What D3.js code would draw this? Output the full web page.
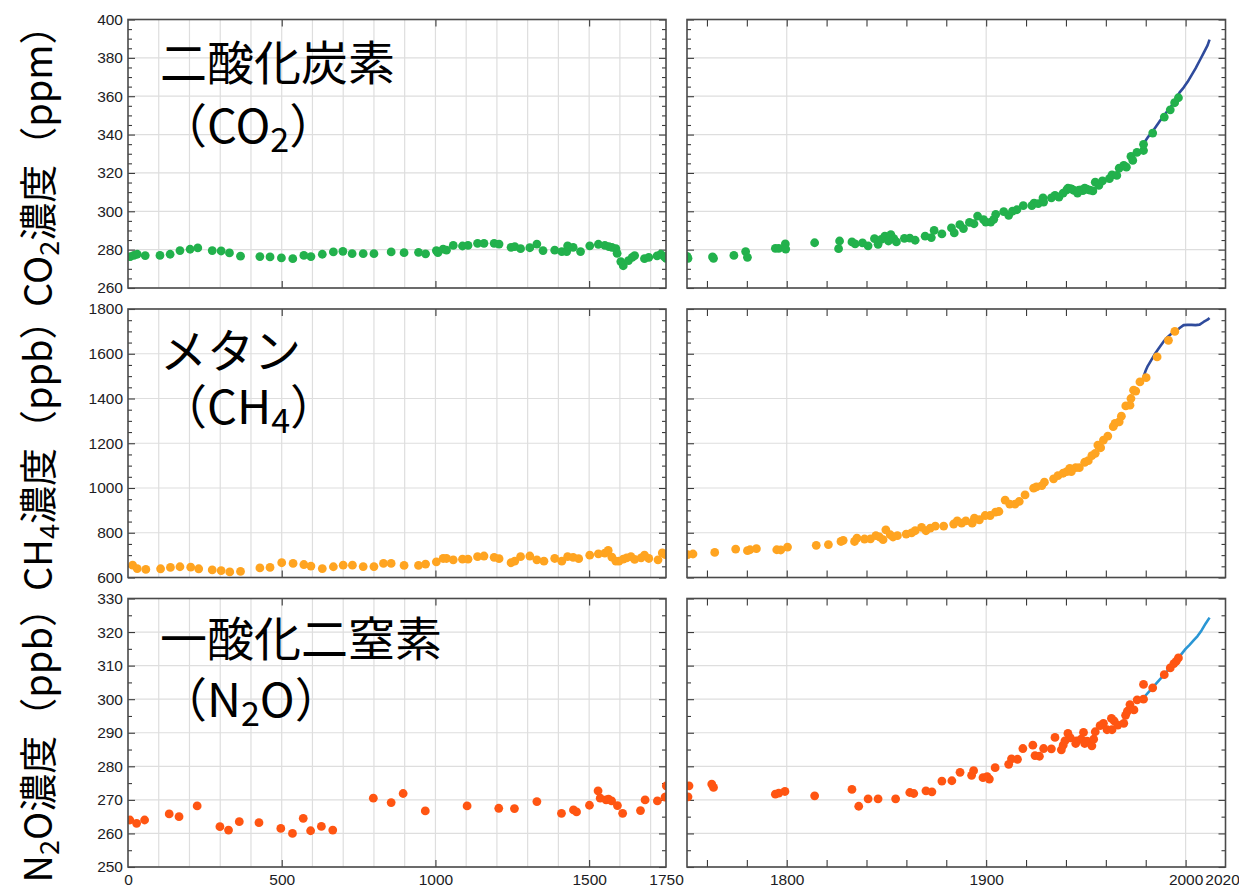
<!DOCTYPE html>
<html>
<head>
<meta charset="utf-8">
<script src="https://cdn.jsdelivr.net/npm/d3@7"></script>
<style>
  body { margin: 0; background: #fff; }
  svg { display: block; }
  .tick text { font-family: "Liberation Sans", Arial, sans-serif; font-size: 15.5px; fill: #1c1c24; }
</style>
</head>
<body>
<svg id="chart"></svg>
<script>
// ---- data: CO2 (ppm) ----
const co2Years = [7, 19, 30, 56, 104, 137, 169, 202, 227, 274, 303, 330, 366, 429, 462, 499, 536, 572, 595, 632, 668, 699, 729, 765, 800, 856, 898, 945, 968, 1003, 1008, 1025, 1036, 1058, 1088, 1106, 1137, 1158, 1191, 1207, 1246, 1258, 1277, 1307, 1330, 1350, 1388, 1411, 1427, 1430, 1448, 1472, 1502, 1530, 1551, 1564, 1574, 1587, 1591, 1603, 1611, 1628, 1640, 1648, 1680, 1694, 1721, 1733, 1744,
  1750, 1750.5, 1762.8, 1763.3, 1773.5, 1779.4, 1780.3, 1794.3, 1796, 1799.3, 1799.5, 1814, 1826.5, 1826, 1832.7, 1834.3, 1838, 1840.8, 1844, 1845.8, 1847.4, 1849.2, 1851, 1852.2, 1853.7, 1855, 1859, 1861.7, 1864.4, 1869.4, 1872.5, 1873.9, 1877.8, 1882.6, 1884, 1886.8, 1888.6, 1891.6, 1893.9, 1895.7, 1898.7, 1899.8, 1902.3, 1903.8, 1904.8, 1908.8, 1911.3, 1913.2, 1915.4, 1918.6, 1922.9, 1924, 1926.1, 1928.5, 1928.8, 1932.7, 1934.5, 1936.5, 1938.6, 1940.4, 1941, 1942.2, 1943, 1944, 1945.8, 1946.5, 1947.6, 1948.5, 1949.4, 1950.5, 1952, 1953.5, 1954.7, 1956.5, 1958.3, 1961.8, 1963.1, 1965.5, 1966.7, 1969, 1970.3, 1972.6, 1973.5, 1975.6, 1978.9, 1978.9, 1983.5, 1989.3, 1992.3, 1994.5, 1996.4];
const co2Values = [276.4, 277, 277.6, 276.9, 277, 277.6, 279.5, 280.2, 280.9, 279.5, 279.3, 278.3, 276.6, 276.4, 276.2, 275.7, 275.3, 277, 276.4, 277.6, 278.8, 279.1, 277.9, 277.9, 277.9, 278.8, 278.4, 278.6, 277.8, 279.5, 278.4, 280.3, 279.7, 282.2, 281.9, 282.2, 283.3, 283.3, 283.3, 282.9, 281.2, 281.6, 280.5, 281, 282.9, 279.5, 279.7, 279, 279, 282, 281.2, 279, 282, 282.8, 282.2, 281.6, 281.2, 280.5, 278.1, 273.8, 271.6, 274.3, 276, 276.9, 275.3, 276, 276.7, 277.6, 276.4,
  276.5, 275.5, 276.2, 275.5, 277, 279, 276, 280.7, 280.7, 283, 280.3, 283.6, 284.5, 280.5, 284, 283, 283.5, 282, 285.7, 282.8, 285.4, 287, 284.5, 287.8, 285.7, 284, 285.9, 286, 284.9, 287, 286.3, 290, 288.2, 291.3, 288.7, 293, 291, 294.2, 293.5, 297.5, 295.6, 294.4, 294.4, 295.8, 298.4, 299.8, 297.9, 300.1, 300.8, 302.9, 303, 304.3, 304, 307, 304.8, 307, 308.3, 307.4, 309.5, 311.2, 312, 311.8, 311.5, 310.9, 309.5, 311, 311.2, 310.8, 312.1, 311.5, 311, 310.6, 315.2, 313.5, 315.8, 317, 319, 318.7, 322.5, 323.9, 323, 328.6, 326.5, 330.7, 331.7, 334.9, 340.8, 349.1, 352.9, 356.6, 359.2];
const co2LineYears = [1979, 1981, 1983, 1985, 1987, 1989, 1991, 1993, 1995, 1997, 1999, 2001, 2003, 2005, 2007, 2009, 2011, 2012];
const co2LineValues = [335.5, 338.5, 341, 344, 347, 349.5, 352.5, 355, 358.5, 362, 364.5, 367.5, 371, 374.5, 378.5, 382.5, 386.5, 389.5];

// ---- data: CH4 (ppb) ----
const ch4Years = [15, 30, 58, 106, 138, 169, 204, 230, 274, 303, 331, 366, 429, 462, 500, 537, 572, 595, 632, 668, 700, 730, 765, 800, 831, 856, 898, 945, 968, 1003, 1025, 1036, 1058, 1088, 1106, 1137, 1158, 1191, 1207, 1246, 1258, 1277, 1307, 1330, 1353, 1388, 1411, 1430, 1448, 1466, 1502, 1530, 1551, 1562, 1574, 1587, 1597, 1611, 1622, 1636, 1648, 1669, 1680, 1694, 1724, 1738, 1747,
  1750.3, 1753, 1763.9, 1774.4, 1780.3, 1781.6, 1784.8, 1795, 1797, 1800.4, 1814.8, 1820.9, 1827.2, 1828.3, 1834, 1835.2, 1839, 1842, 1844.7, 1846.5, 1848.3, 1849.7, 1851.9, 1853.3, 1855.5, 1859.9, 1862.6, 1864.4, 1867.6, 1869.8, 1872, 1874.5, 1878.7, 1883.7, 1885.5, 1887.7, 1889.8, 1893, 1894.1, 1896.6, 1899.5, 1902, 1904.7, 1906.4, 1909.5, 1911.8, 1914.5, 1916.6, 1919.5, 1923.8, 1925.2, 1927.9, 1929.2, 1933.8, 1936, 1938.6, 1940.4, 1941.9, 1942.7, 1944.9, 1946.7, 1949.4, 1951.2, 1953, 1954.7, 1956, 1957.4, 1958.8, 1961, 1963.7, 1964.6, 1966.7, 1967.8, 1970, 1972.1, 1972.6, 1973.9, 1975, 1977.1, 1980.2, 1985.7, 1991.4, 1994.6];
const ch4Values = [655, 640, 636, 639, 645, 648, 646, 639, 634, 631, 625, 627, 643, 645, 666, 663, 658, 651, 640, 648, 655, 655, 649, 649, 663, 663, 654, 654, 660, 670, 685, 685, 679, 682, 682, 693, 696, 690, 684, 666, 673, 693, 696, 679, 673, 685, 673, 693, 690, 684, 700, 706, 709, 721, 691, 673, 673, 682, 688, 693, 681, 688, 700, 685, 679, 710, 703,
  702, 705, 712, 727, 720, 724, 729, 724, 723, 736, 744, 747, 761, 766, 761, 776, 772, 773, 787, 781, 769, 813, 791, 781, 787, 794, 799, 809, 824, 809, 821, 830, 830, 839, 853, 843, 853, 843, 865, 858, 877, 877, 892, 895, 946, 928, 928, 940, 969, 999, 1005, 1011, 1026, 1041, 1055, 1066, 1073, 1088, 1073, 1091, 1091, 1115, 1122, 1145, 1155, 1192, 1180, 1214, 1232, 1274, 1289, 1296, 1321, 1367, 1370, 1400, 1437, 1433, 1474, 1493, 1586, 1660, 1700];
const ch4LineYears = [1979, 1980, 1981, 1983, 1985, 1987, 1989, 1991, 1993, 1995, 1997, 1999, 2001, 2003, 2005, 2007, 2009, 2011, 2012];
const ch4LineValues = [1500, 1525, 1545, 1575, 1605, 1630, 1655, 1675, 1690, 1700, 1715, 1728, 1729, 1729, 1728, 1730, 1742, 1752, 1760];

// ---- data: N2O (ppb) ----
const n2oYears = [6, 28, 54, 134, 166, 225, 299, 327, 362, 426, 497, 535, 570, 594, 629, 666, 798, 856, 895, 967, 1103, 1206, 1257, 1330, 1410, 1449, 1459, 1501, 1529, 1536, 1555, 1563, 1573, 1592, 1609, 1667, 1682, 1722, 1747, 1751,
  1750.5, 1762.4, 1763.3, 1794.3, 1796, 1799.1, 1814, 1832.7, 1836.1, 1840.8, 1845.8, 1854.6, 1861.7, 1863.7, 1869.8, 1872.8, 1877.8, 1882.8, 1886.9, 1892.7, 1893.7, 1898.4, 1900.5, 1901.6, 1904.5, 1911.3, 1912.7, 1915.7, 1918.4, 1923.4, 1924.5, 1926.7, 1928.8, 1932.7, 1934.5, 1937.7, 1938.6, 1939.5, 1941, 1942.2, 1944.9, 1945.3, 1947.6, 1948.8, 1949.4, 1950.6, 1953, 1953.9, 1954.7, 1957.1, 1958.8, 1960.6, 1962.8, 1963.1, 1964.2, 1966, 1969, 1969.9, 1970.8, 1972.1, 1974.1, 1975.7, 1978.9, 1978.9, 1983.5, 1989.3, 1992.3, 1994.1, 1995.3, 1996.4];
const n2oValues = [264, 263, 264, 265.8, 265, 268.2, 262, 261, 263.5, 263.2, 261.5, 260, 264.5, 260.8, 262.1, 261, 270.5, 269.2, 271.9, 266.7, 268.2, 267.5, 267.4, 269.5, 266, 267, 266.4, 268.4, 272.7, 270.5, 270, 270.2, 269.7, 268.3, 266, 266.8, 270, 269.7, 270.8, 274.2,
  270.9, 274.7, 273.7, 271.7, 272, 272.5, 271.2, 273.1, 268.1, 270.3, 270.3, 270.3, 272.2, 271.9, 272.7, 272.4, 275.6, 275.7, 278.2, 277.3, 278.7, 276.6, 276.9, 276.2, 279.6, 280.6, 282.2, 282.1, 285.3, 286.3, 283.2, 283, 285.3, 285.2, 288.6, 284.9, 286.3, 287.6, 289.8, 288.5, 286.8, 287.6, 288.1, 290.1, 286.8, 287.5, 286.1, 288.1, 290.3, 292.1, 292.8, 290.9, 294.3, 290.9, 293.5, 292.3, 292.8, 295.2, 296.4, 298.4, 296.8, 299.8, 304.4, 300, 303.4, 307.3, 309.3, 310.6, 311.3, 312.3];
const n2oLineYears = [1979, 1982, 1985, 1988, 1990, 1993, 1996, 1998, 2000, 2002, 2004, 2006, 2008, 2010, 2012];
const n2oLineValues = [300.5, 302.5, 304.5, 306.5, 307.8, 310, 312, 313.5, 315, 316.2, 317.5, 318.8, 320.5, 322.5, 324.3];

// ---- axis ticks ----
const co2Ticks = [260, 280, 300, 320, 340, 360, 380, 400];
const ch4Ticks = [600, 800, 1000, 1200, 1400, 1600, 1800];
const n2oTicks = [250, 260, 270, 280, 290, 300, 310, 320, 330];
const ancientTicks = [0, 500, 1000, 1500, 1750];
const modernTicks = [1800, 1900, 2000, 2020];

const width = 1239, height = 895;
const svg = d3.select('#chart').attr('width', width).attr('height', height);

const columns = [
  { x0: 128, x1: 666, domain: [0, 1750], grid: d3.range(100, 1750, 100), major: [500, 1000, 1500] },
  { x0: 687, x1: 1225.5, domain: [1750, 2020], grid: [1800, 1900, 2000], major: d3.range(1760, 2020, 20) }
];

const rows = [
  { top: 19.5, domain: [260, 400], ticks: co2Ticks, minorStep: 5, years: co2Years, values: co2Values,
    lineYears: co2LineYears, lineValues: co2LineValues, dot: '#22b14c', line: '#2f4b9c',
    name: '二酸化炭素', formula: ['CO', '2', ''], nameDy: 60.5, formulaDy: 123.5,
    label: ['CO', '2', '濃度（ppm）'] },
  { top: 309, domain: [600, 1800], ticks: ch4Ticks, minorStep: 50, years: ch4Years, values: ch4Values,
    lineYears: ch4LineYears, lineValues: ch4LineValues, dot: '#ffa420', line: '#2f4b9c',
    name: 'メタン', formula: ['CH', '4', ''], nameDy: 59, formulaDy: 114.5,
    label: ['CH', '4', '濃度（ppb）'] },
  { top: 598.5, domain: [250, 330], ticks: n2oTicks, minorStep: 5, years: n2oYears, values: n2oValues,
    lineYears: n2oLineYears, lineValues: n2oLineValues, dot: '#ff5512', line: '#2a96d4',
    name: '一酸化二窒素', formula: ['N', '2', 'O'], nameDy: 57, formulaDy: 118.5,
    label: ['N', '2', 'O濃度（ppb）'] }
];
const panelH = 268.5;
const cjk = '"Noto Sans CJK JP", "Noto Sans", sans-serif';

rows.forEach((row, ri) => {
  const bottom = row.top + panelH;
  const y = d3.scaleLinear().domain(row.domain).range([bottom, row.top]);
  const minorY = d3.range(row.domain[0], row.domain[1] + 0.001, row.minorStep)
    .filter(v => !row.ticks.includes(v));

  columns.forEach((col, ci) => {
    const x = d3.scaleLinear().domain(col.domain).range([col.x0, col.x1]);
    const w = col.x1 - col.x0;
    const clipId = `clip-${ri}-${ci}`;
    svg.append('clipPath').attr('id', clipId)
      .append('rect').attr('x', col.x0).attr('y', row.top).attr('width', w).attr('height', panelH);

    const g = svg.append('g');

    // grid
    g.selectAll('.hgrid').data(row.ticks).enter().append('line')
      .attr('x1', col.x0).attr('x2', col.x1)
      .attr('y1', d => y(d)).attr('y2', d => y(d))
      .attr('stroke', '#dedede').attr('stroke-width', 1.2);
    g.selectAll('.vgrid').data(col.grid).enter().append('line')
      .attr('x1', d => x(d)).attr('x2', d => x(d))
      .attr('y1', row.top).attr('y2', bottom)
      .attr('stroke', '#dedede').attr('stroke-width', 1.2);

    // y ticks, both sides, inward
    const yMajor = d3.axisLeft(y).tickValues(row.ticks).tickSize(-7).tickPadding(5)
      .tickFormat(ci === 0 ? d3.format('d') : '');
    const yMinor = d3.axisLeft(y).tickValues(minorY).tickSize(-4).tickFormat('');
    g.append('g').attr('transform', `translate(${col.x0},0)`).call(yMajor);
    g.append('g').attr('transform', `translate(${col.x0},0)`).call(yMinor);
    g.append('g').attr('transform', `translate(${col.x1},0)`)
      .call(d3.axisRight(y).tickValues(row.ticks).tickSize(-7).tickFormat(''));
    g.append('g').attr('transform', `translate(${col.x1},0)`)
      .call(d3.axisRight(y).tickValues(minorY).tickSize(-4).tickFormat(''));

    // x ticks, top and bottom, inward
    g.append('g').attr('transform', `translate(0,${bottom})`)
      .call(d3.axisBottom(x).tickValues(col.major).tickSize(-7).tickFormat(''));
    g.append('g').attr('transform', `translate(0,${row.top})`)
      .call(d3.axisTop(x).tickValues(col.major).tickSize(-7).tickFormat(''));

    if (ri === rows.length - 1) {
      const lab = g.append('g').attr('transform', `translate(0,${bottom})`)
        .call(d3.axisBottom(x).tickValues(ci === 0 ? ancientTicks : modernTicks)
          .tickSize(0).tickPadding(7).tickFormat(d3.format('d')));
      // the last label is pushed in so it stays inside the page
      lab.selectAll('.tick text').filter(d => d === 2020).attr('dx', -3.5);
    }

    g.selectAll('.domain').remove();
    g.selectAll('.tick line').attr('stroke', '#3a3a3a').attr('stroke-width', 1.1);

    // data
    const pts = row.years.map((yr, i) => ({ yr, v: row.values[i] }))
      .filter(d => d.yr >= col.domain[0] - 5 && d.yr <= col.domain[1] + 5);
    const plot = svg.append('g').attr('clip-path', `url(#${clipId})`);

    if (ci === 1) {
      const linePts = row.lineYears.map((yr, i) => [yr, row.lineValues[i]]);
      plot.append('path')
        .datum(linePts)
        .attr('fill', 'none')
        .attr('stroke', row.line)
        .attr('stroke-width', 2.6)
        .attr('stroke-linejoin', 'round')
        .attr('d', d3.line().x(d => x(d[0])).y(d => y(d[1])));
    }

    plot.selectAll('circle').data(pts).enter().append('circle')
      .attr('cx', d => x(d.yr))
      .attr('cy', d => y(d.v))
      .attr('r', 4.4)
      .attr('fill', row.dot);

    // frame
    svg.append('rect')
      .attr('x', col.x0).attr('y', row.top).attr('width', w).attr('height', panelH)
      .attr('fill', 'none').attr('stroke', '#4a4a4a').attr('stroke-width', 1.6);
  });

  // panel title
  const title = svg.append('text')
    .attr('font-family', cjk).attr('font-size', 47).attr('fill', '#000');
  title.append('tspan').attr('x', 160).attr('y', row.top + row.nameDy).text(row.name);
  const f = svg.append('text')
    .attr('font-family', cjk).attr('font-size', 47).attr('fill', '#000')
    .attr('x', 160).attr('y', row.top + row.formulaDy);
  f.append('tspan').text('（' + row.formula[0]);
  f.append('tspan').attr('font-size', 34).attr('dy', 9).text(row.formula[1]);
  f.append('tspan').attr('dy', -9).text(row.formula[2] + '）');

  // y-axis label
  const cy = row.top + panelH / 2 + 3;
  const lab = svg.append('text')
    .attr('font-family', cjk).attr('font-size', 38).attr('fill', '#000')
    .attr('text-anchor', 'middle')
    .attr('transform', `translate(52,${cy}) rotate(-90)`);
  lab.append('tspan').text(row.label[0]);
  lab.append('tspan').attr('font-size', 27).attr('dy', 7).text(row.label[1]);
  lab.append('tspan').attr('dy', -7).text(row.label[2]);
});
</script>
</body>
</html>
